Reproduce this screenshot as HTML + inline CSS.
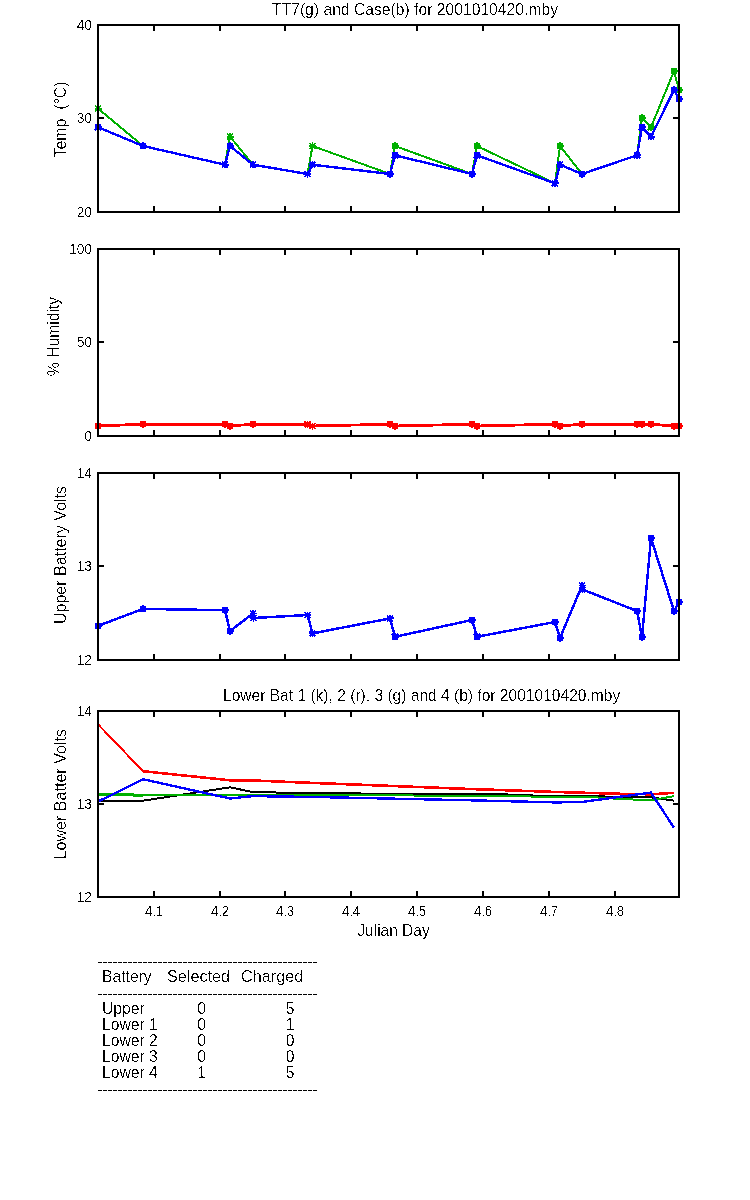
<!DOCTYPE html><html><head><meta charset="utf-8"><style>html,body{margin:0;padding:0;background:#fff;width:750px;height:1200px;overflow:hidden}svg{display:block}</style></head><body>
<svg width="750" height="1200" viewBox="0 0 750 1200">
<rect width="750" height="1200" fill="#fff"/>
<path d="M98.0 108.5 L143.0 146.0 L225.0 164.7 L230.0 136.6 L253.0 164.7 L307.5 174.0 L312.5 146.0 L390.0 174.0 L395.0 146.0 L472.0 174.0 L477.0 146.0 L555.0 183.3 L560.0 146.0 L582.0 174.0 L637.0 155.3 L642.0 117.9 L651.0 127.2 L674.0 71.2 L679.0 89.9" fill="none" stroke="#00b000" stroke-width="2" stroke-linejoin="round" shape-rendering="crispEdges"/>
<path d="M94.50 108.55h7.0M98.00 105.05v7.0M95.10 105.65l5.80 5.80M95.10 111.45l5.80 -5.80M139.50 145.95h7.0M143.00 142.45v7.0M140.10 143.05l5.80 5.80M140.10 148.85l5.80 -5.80M221.50 164.65h7.0M225.00 161.15v7.0M222.10 161.75l5.80 5.80M222.10 167.55l5.80 -5.80M226.50 136.60h7.0M230.00 133.10v7.0M227.10 133.70l5.80 5.80M227.10 139.50l5.80 -5.80M249.50 164.65h7.0M253.00 161.15v7.0M250.10 161.75l5.80 5.80M250.10 167.55l5.80 -5.80M304.00 174.00h7.0M307.50 170.50v7.0M304.60 171.10l5.80 5.80M304.60 176.90l5.80 -5.80M309.00 145.95h7.0M312.50 142.45v7.0M309.60 143.05l5.80 5.80M309.60 148.85l5.80 -5.80M386.50 174.00h7.0M390.00 170.50v7.0M387.10 171.10l5.80 5.80M387.10 176.90l5.80 -5.80M391.50 145.95h7.0M395.00 142.45v7.0M392.10 143.05l5.80 5.80M392.10 148.85l5.80 -5.80M468.50 174.00h7.0M472.00 170.50v7.0M469.10 171.10l5.80 5.80M469.10 176.90l5.80 -5.80M473.50 145.95h7.0M477.00 142.45v7.0M474.10 143.05l5.80 5.80M474.10 148.85l5.80 -5.80M551.50 183.35h7.0M555.00 179.85v7.0M552.10 180.45l5.80 5.80M552.10 186.25l5.80 -5.80M556.50 145.95h7.0M560.00 142.45v7.0M557.10 143.05l5.80 5.80M557.10 148.85l5.80 -5.80M578.50 174.00h7.0M582.00 170.50v7.0M579.10 171.10l5.80 5.80M579.10 176.90l5.80 -5.80M633.50 155.30h7.0M637.00 151.80v7.0M634.10 152.40l5.80 5.80M634.10 158.20l5.80 -5.80M638.50 117.90h7.0M642.00 114.40v7.0M639.10 115.00l5.80 5.80M639.10 120.80l5.80 -5.80M647.50 127.25h7.0M651.00 123.75v7.0M648.10 124.35l5.80 5.80M648.10 130.15l5.80 -5.80M670.50 71.15h7.0M674.00 67.65v7.0M671.10 68.25l5.80 5.80M671.10 74.05l5.80 -5.80M675.50 89.85h7.0M679.00 86.35v7.0M676.10 86.95l5.80 5.80M676.10 92.75l5.80 -5.80" fill="none" stroke="#00b000" stroke-width="1.9" shape-rendering="crispEdges"/>
<path d="M98.0 127.2 L143.0 146.0 L225.0 164.7 L230.0 146.0 L253.0 164.7 L307.5 174.0 L312.5 164.7 L390.0 174.0 L395.0 155.3 L472.0 174.0 L477.0 155.3 L555.0 183.3 L560.0 164.7 L582.0 174.0 L637.0 155.3 L642.0 127.2 L651.0 136.6 L674.0 89.9 L679.0 99.2" fill="none" stroke="#0000ff" stroke-width="2.4" stroke-linejoin="round" shape-rendering="crispEdges"/>
<path d="M94.50 127.25h7.0M98.00 123.75v7.0M95.10 124.35l5.80 5.80M95.10 130.15l5.80 -5.80M139.50 145.95h7.0M143.00 142.45v7.0M140.10 143.05l5.80 5.80M140.10 148.85l5.80 -5.80M221.50 164.65h7.0M225.00 161.15v7.0M222.10 161.75l5.80 5.80M222.10 167.55l5.80 -5.80M226.50 145.95h7.0M230.00 142.45v7.0M227.10 143.05l5.80 5.80M227.10 148.85l5.80 -5.80M249.50 164.65h7.0M253.00 161.15v7.0M250.10 161.75l5.80 5.80M250.10 167.55l5.80 -5.80M304.00 174.00h7.0M307.50 170.50v7.0M304.60 171.10l5.80 5.80M304.60 176.90l5.80 -5.80M309.00 164.65h7.0M312.50 161.15v7.0M309.60 161.75l5.80 5.80M309.60 167.55l5.80 -5.80M386.50 174.00h7.0M390.00 170.50v7.0M387.10 171.10l5.80 5.80M387.10 176.90l5.80 -5.80M391.50 155.30h7.0M395.00 151.80v7.0M392.10 152.40l5.80 5.80M392.10 158.20l5.80 -5.80M468.50 174.00h7.0M472.00 170.50v7.0M469.10 171.10l5.80 5.80M469.10 176.90l5.80 -5.80M473.50 155.30h7.0M477.00 151.80v7.0M474.10 152.40l5.80 5.80M474.10 158.20l5.80 -5.80M551.50 183.35h7.0M555.00 179.85v7.0M552.10 180.45l5.80 5.80M552.10 186.25l5.80 -5.80M556.50 164.65h7.0M560.00 161.15v7.0M557.10 161.75l5.80 5.80M557.10 167.55l5.80 -5.80M578.50 174.00h7.0M582.00 170.50v7.0M579.10 171.10l5.80 5.80M579.10 176.90l5.80 -5.80M633.50 155.30h7.0M637.00 151.80v7.0M634.10 152.40l5.80 5.80M634.10 158.20l5.80 -5.80M638.50 127.25h7.0M642.00 123.75v7.0M639.10 124.35l5.80 5.80M639.10 130.15l5.80 -5.80M647.50 136.60h7.0M651.00 133.10v7.0M648.10 133.70l5.80 5.80M648.10 139.50l5.80 -5.80M670.50 89.85h7.0M674.00 86.35v7.0M671.10 86.95l5.80 5.80M671.10 92.75l5.80 -5.80M675.50 99.20h7.0M679.00 95.70v7.0M676.10 96.30l5.80 5.80M676.10 102.10l5.80 -5.80" fill="none" stroke="#0000ff" stroke-width="1.9" shape-rendering="crispEdges"/>
<path d="M98 25H679V212H98ZM154 25V31M154 212V206M220 25V31M220 212V206M285 25V31M285 212V206M351 25V31M351 212V206M417 25V31M417 212V206M483 25V31M483 212V206M549 25V31M549 212V206M615 25V31M615 212V206M98 118H104M679 118H673" fill="none" stroke="#000" stroke-width="2" shape-rendering="crispEdges"/>
<path d="M98.0 426.0 L143.0 424.2 L225.0 424.2 L230.0 426.0 L253.0 424.2 L307.5 424.2 L312.5 426.0 L390.0 424.2 L395.0 426.0 L472.0 424.2 L477.0 426.0 L555.0 424.2 L560.0 426.0 L582.0 424.2 L637.0 424.2 L642.0 424.2 L651.0 424.2 L674.0 426.0 L679.0 426.0" fill="none" stroke="#ff0000" stroke-width="2.8" stroke-linejoin="round" shape-rendering="crispEdges"/>
<path d="M94.50 426.05h7.0M98.00 422.55v7.0M95.10 423.15l5.80 5.80M95.10 428.95l5.80 -5.80M139.50 424.18h7.0M143.00 420.68v7.0M140.10 421.28l5.80 5.80M140.10 427.08l5.80 -5.80M221.50 424.18h7.0M225.00 420.68v7.0M222.10 421.28l5.80 5.80M222.10 427.08l5.80 -5.80M226.50 426.05h7.0M230.00 422.55v7.0M227.10 423.15l5.80 5.80M227.10 428.95l5.80 -5.80M249.50 424.18h7.0M253.00 420.68v7.0M250.10 421.28l5.80 5.80M250.10 427.08l5.80 -5.80M304.00 424.18h7.0M307.50 420.68v7.0M304.60 421.28l5.80 5.80M304.60 427.08l5.80 -5.80M309.00 426.05h7.0M312.50 422.55v7.0M309.60 423.15l5.80 5.80M309.60 428.95l5.80 -5.80M386.50 424.18h7.0M390.00 420.68v7.0M387.10 421.28l5.80 5.80M387.10 427.08l5.80 -5.80M391.50 426.05h7.0M395.00 422.55v7.0M392.10 423.15l5.80 5.80M392.10 428.95l5.80 -5.80M468.50 424.18h7.0M472.00 420.68v7.0M469.10 421.28l5.80 5.80M469.10 427.08l5.80 -5.80M473.50 426.05h7.0M477.00 422.55v7.0M474.10 423.15l5.80 5.80M474.10 428.95l5.80 -5.80M551.50 424.18h7.0M555.00 420.68v7.0M552.10 421.28l5.80 5.80M552.10 427.08l5.80 -5.80M556.50 426.05h7.0M560.00 422.55v7.0M557.10 423.15l5.80 5.80M557.10 428.95l5.80 -5.80M578.50 424.18h7.0M582.00 420.68v7.0M579.10 421.28l5.80 5.80M579.10 427.08l5.80 -5.80M633.50 424.18h7.0M637.00 420.68v7.0M634.10 421.28l5.80 5.80M634.10 427.08l5.80 -5.80M638.50 424.18h7.0M642.00 420.68v7.0M639.10 421.28l5.80 5.80M639.10 427.08l5.80 -5.80M647.50 424.18h7.0M651.00 420.68v7.0M648.10 421.28l5.80 5.80M648.10 427.08l5.80 -5.80M670.50 426.05h7.0M674.00 422.55v7.0M671.10 423.15l5.80 5.80M671.10 428.95l5.80 -5.80M675.50 426.05h7.0M679.00 422.55v7.0M676.10 423.15l5.80 5.80M676.10 428.95l5.80 -5.80" fill="none" stroke="#ff0000" stroke-width="1.9" shape-rendering="crispEdges"/>
<path d="M98 249H679V436H98ZM154 249V255M154 436V430M220 249V255M220 436V430M285 249V255M285 436V430M351 249V255M351 436V430M417 249V255M417 436V430M483 249V255M483 436V430M549 249V255M549 436V430M615 249V255M615 436V430M98 342H104M679 342H673" fill="none" stroke="#000" stroke-width="2" shape-rendering="crispEdges"/>
<path d="M98.0 625.9 L143.0 608.9 L225.0 610.2 L230.0 631.0 L253.0 613.5 L253.5 618.0 L307.5 615.0 L312.5 633.4 L390.0 618.4 L395.0 636.8 L472.0 620.0 L477.0 636.8 L555.0 622.0 L560.0 638.0 L582.0 585.5 L582.5 589.5 L637.0 611.0 L642.0 637.0 L651.0 538.0 L674.0 611.0 L679.0 602.0" fill="none" stroke="#0000ff" stroke-width="2.5" stroke-linejoin="round" shape-rendering="crispEdges"/>
<path d="M94.50 625.90h7.0M98.00 622.40v7.0M95.10 623.00l5.80 5.80M95.10 628.80l5.80 -5.80M139.50 608.90h7.0M143.00 605.40v7.0M140.10 606.00l5.80 5.80M140.10 611.80l5.80 -5.80M221.50 610.20h7.0M225.00 606.70v7.0M222.10 607.30l5.80 5.80M222.10 613.10l5.80 -5.80M226.50 631.00h7.0M230.00 627.50v7.0M227.10 628.10l5.80 5.80M227.10 633.90l5.80 -5.80M249.50 613.50h7.0M253.00 610.00v7.0M250.10 610.60l5.80 5.80M250.10 616.40l5.80 -5.80M250.00 618.00h7.0M253.50 614.50v7.0M250.60 615.10l5.80 5.80M250.60 620.90l5.80 -5.80M304.00 615.00h7.0M307.50 611.50v7.0M304.60 612.10l5.80 5.80M304.60 617.90l5.80 -5.80M309.00 633.40h7.0M312.50 629.90v7.0M309.60 630.50l5.80 5.80M309.60 636.30l5.80 -5.80M386.50 618.40h7.0M390.00 614.90v7.0M387.10 615.50l5.80 5.80M387.10 621.30l5.80 -5.80M391.50 636.80h7.0M395.00 633.30v7.0M392.10 633.90l5.80 5.80M392.10 639.70l5.80 -5.80M468.50 620.00h7.0M472.00 616.50v7.0M469.10 617.10l5.80 5.80M469.10 622.90l5.80 -5.80M473.50 636.80h7.0M477.00 633.30v7.0M474.10 633.90l5.80 5.80M474.10 639.70l5.80 -5.80M551.50 622.00h7.0M555.00 618.50v7.0M552.10 619.10l5.80 5.80M552.10 624.90l5.80 -5.80M556.50 638.00h7.0M560.00 634.50v7.0M557.10 635.10l5.80 5.80M557.10 640.90l5.80 -5.80M578.50 585.50h7.0M582.00 582.00v7.0M579.10 582.60l5.80 5.80M579.10 588.40l5.80 -5.80M579.00 589.50h7.0M582.50 586.00v7.0M579.60 586.60l5.80 5.80M579.60 592.40l5.80 -5.80M633.50 611.00h7.0M637.00 607.50v7.0M634.10 608.10l5.80 5.80M634.10 613.90l5.80 -5.80M638.50 637.00h7.0M642.00 633.50v7.0M639.10 634.10l5.80 5.80M639.10 639.90l5.80 -5.80M647.50 538.00h7.0M651.00 534.50v7.0M648.10 535.10l5.80 5.80M648.10 540.90l5.80 -5.80M670.50 611.00h7.0M674.00 607.50v7.0M671.10 608.10l5.80 5.80M671.10 613.90l5.80 -5.80M675.50 602.00h7.0M679.00 598.50v7.0M676.10 599.10l5.80 5.80M676.10 604.90l5.80 -5.80" fill="none" stroke="#0000ff" stroke-width="1.9" shape-rendering="crispEdges"/>
<path d="M98 473H679V660H98ZM154 473V479M154 660V654M220 473V479M220 660V654M285 473V479M285 660V654M351 473V479M351 660V654M417 473V479M417 660V654M483 473V479M483 660V654M549 473V479M549 660V654M615 473V479M615 660V654M98 566H104M679 566H673" fill="none" stroke="#000" stroke-width="2" shape-rendering="crispEdges"/>
<path d="M98.0 800.7 L143.0 800.7 L230.0 787.3 L253.0 792.1 L320.0 793.3 L500.0 794.2 L541.0 795.8 L590.0 796.0 L620.0 797.0 L651.0 797.4 L674.0 800.6" fill="none" stroke="#000000" stroke-width="2" stroke-linejoin="round" shape-rendering="crispEdges"/>
<path d="M98.0 724.3 L143.0 771.2" fill="none" stroke="#ff0000" stroke-width="2" stroke-linejoin="round" shape-rendering="crispEdges"/>
<path d="M143.0 771.2 L230.0 780.3 L253.0 780.5 L320.0 783.2 L470.0 789.0 L560.0 792.1 L620.0 793.8 L651.0 794.3 L674.0 792.8" fill="none" stroke="#ff0000" stroke-width="2.6" stroke-linejoin="round" shape-rendering="crispEdges"/>
<path d="M98.0 794.3 L143.0 795.2" fill="none" stroke="#00b000" stroke-width="3" stroke-linejoin="round" shape-rendering="crispEdges"/>
<path d="M143.0 795.2 L230.0 794.7 L320.0 794.7 L470.0 796.0 L590.0 797.0 L620.0 799.0 L651.0 800.2 L674.0 796.2" fill="none" stroke="#00b000" stroke-width="2" stroke-linejoin="round" shape-rendering="crispEdges"/>
<path d="M98.0 801.6 L143.0 779.2 L230.0 798.5 L253.0 796.1 L320.0 797.1 L470.0 800.3 L556.0 802.4 L582.0 802.0 L630.0 795.4 L651.0 792.6 L674.0 827.7" fill="none" stroke="#0000ff" stroke-width="2.4" stroke-linejoin="round" shape-rendering="crispEdges"/>
<path d="M98 711H679V897H98ZM154 711V717M154 897V891M220 711V717M220 897V891M285 711V717M285 897V891M351 711V717M351 897V891M417 711V717M417 897V891M483 711V717M483 897V891M549 711V717M549 897V891M615 711V717M615 897V891M98 804H104M679 804H673" fill="none" stroke="#000" stroke-width="2" shape-rendering="crispEdges"/>
<path d="M98 962.5H317" stroke="#000" stroke-width="1" stroke-dasharray="4 1" shape-rendering="crispEdges"/>
<path d="M98 994.5H317" stroke="#000" stroke-width="1" stroke-dasharray="4 1" shape-rendering="crispEdges"/>
<path d="M98 1090.5H317" stroke="#000" stroke-width="1" stroke-dasharray="4 1" shape-rendering="crispEdges"/>
<filter id="th" x="0" y="0" width="750" height="1200" filterUnits="userSpaceOnUse"><feComponentTransfer><feFuncA type="discrete" tableValues="0 0 0 1 1"/></feComponentTransfer></filter>
<g filter="url(#th)" font-family='"Liberation Sans", sans-serif' fill="#000">
<text x="92" y="30" font-size="13.8" text-anchor="end">40</text>
<text x="92" y="123" font-size="13.8" text-anchor="end">30</text>
<text x="92" y="217" font-size="13.8" text-anchor="end">20</text>
<text transform="translate(66 119.5) rotate(-90)" font-size="15.7" text-anchor="middle" textLength="76.1" lengthAdjust="spacingAndGlyphs">Temp&#160;&#160;(°C)</text>
<text x="272" y="14.5" font-size="15.7" text-anchor="start">TT7(g) and Case(b) for 2001010420.mby</text>
<text x="92" y="254" font-size="13.8" text-anchor="end">100</text>
<text x="92" y="347" font-size="13.8" text-anchor="end">50</text>
<text x="92" y="441" font-size="13.8" text-anchor="end">0</text>
<text transform="translate(58.5 336.5) rotate(-90)" font-size="15.7" text-anchor="middle">% Humidity</text>
<text x="92" y="478" font-size="13.8" text-anchor="end">14</text>
<text x="92" y="571" font-size="13.8" text-anchor="end">13</text>
<text x="92" y="665" font-size="13.8" text-anchor="end">12</text>
<text transform="translate(66 555) rotate(-90)" font-size="15.7" text-anchor="middle" textLength="138.2" lengthAdjust="spacingAndGlyphs">Upper Battery Volts</text>
<text x="92" y="716" font-size="13.8" text-anchor="end">14</text>
<text x="92" y="809" font-size="13.8" text-anchor="end">13</text>
<text x="92" y="902" font-size="13.8" text-anchor="end">12</text>
<text transform="translate(66 794.2) rotate(-90)" font-size="15.7" text-anchor="middle" textLength="130.3" lengthAdjust="spacingAndGlyphs">Lower Batter Volts</text>
<text x="223" y="701" font-size="15.7" text-anchor="start" textLength="397.2" lengthAdjust="spacingAndGlyphs">Lower Bat 1 (k), 2 (r), 3 (g) and 4 (b) for 2001010420.mby</text>
<text x="154" y="916" font-size="13.8" text-anchor="middle" textLength="18.2" lengthAdjust="spacingAndGlyphs">4.1</text>
<text x="220" y="916" font-size="13.8" text-anchor="middle" textLength="18.2" lengthAdjust="spacingAndGlyphs">4.2</text>
<text x="285" y="916" font-size="13.8" text-anchor="middle" textLength="18.2" lengthAdjust="spacingAndGlyphs">4.3</text>
<text x="351" y="916" font-size="13.8" text-anchor="middle" textLength="18.2" lengthAdjust="spacingAndGlyphs">4.4</text>
<text x="417" y="916" font-size="13.8" text-anchor="middle" textLength="18.2" lengthAdjust="spacingAndGlyphs">4.5</text>
<text x="483" y="916" font-size="13.8" text-anchor="middle" textLength="18.2" lengthAdjust="spacingAndGlyphs">4.6</text>
<text x="549" y="916" font-size="13.8" text-anchor="middle" textLength="18.2" lengthAdjust="spacingAndGlyphs">4.7</text>
<text x="615" y="916" font-size="13.8" text-anchor="middle" textLength="18.2" lengthAdjust="spacingAndGlyphs">4.8</text>
<text x="393.5" y="936" font-size="15.7" text-anchor="middle" textLength="72.25" lengthAdjust="spacingAndGlyphs">Julian Day</text>
<text x="102" y="982" font-size="15.7" text-anchor="start">Battery</text>
<text x="167" y="982" font-size="15.7" text-anchor="start" textLength="63" lengthAdjust="spacingAndGlyphs">Selected</text>
<text x="241" y="982" font-size="15.7" text-anchor="start" textLength="62.2" lengthAdjust="spacingAndGlyphs">Charged</text>
<text x="102" y="1014" font-size="15.7" text-anchor="start">Upper</text>
<text x="201.5" y="1014" font-size="15.7" text-anchor="middle">0</text>
<text x="290" y="1014" font-size="15.7" text-anchor="middle">5</text>
<text x="102" y="1030" font-size="15.7" text-anchor="start">Lower 1</text>
<text x="201.5" y="1030" font-size="15.7" text-anchor="middle">0</text>
<text x="290" y="1030" font-size="15.7" text-anchor="middle">1</text>
<text x="102" y="1046" font-size="15.7" text-anchor="start">Lower 2</text>
<text x="201.5" y="1046" font-size="15.7" text-anchor="middle">0</text>
<text x="290" y="1046" font-size="15.7" text-anchor="middle">0</text>
<text x="102" y="1062" font-size="15.7" text-anchor="start">Lower 3</text>
<text x="201.5" y="1062" font-size="15.7" text-anchor="middle">0</text>
<text x="290" y="1062" font-size="15.7" text-anchor="middle">0</text>
<text x="102" y="1078" font-size="15.7" text-anchor="start">Lower 4</text>
<text x="201.5" y="1078" font-size="15.7" text-anchor="middle">1</text>
<text x="290" y="1078" font-size="15.7" text-anchor="middle">5</text>
</g>
</svg></body></html>
